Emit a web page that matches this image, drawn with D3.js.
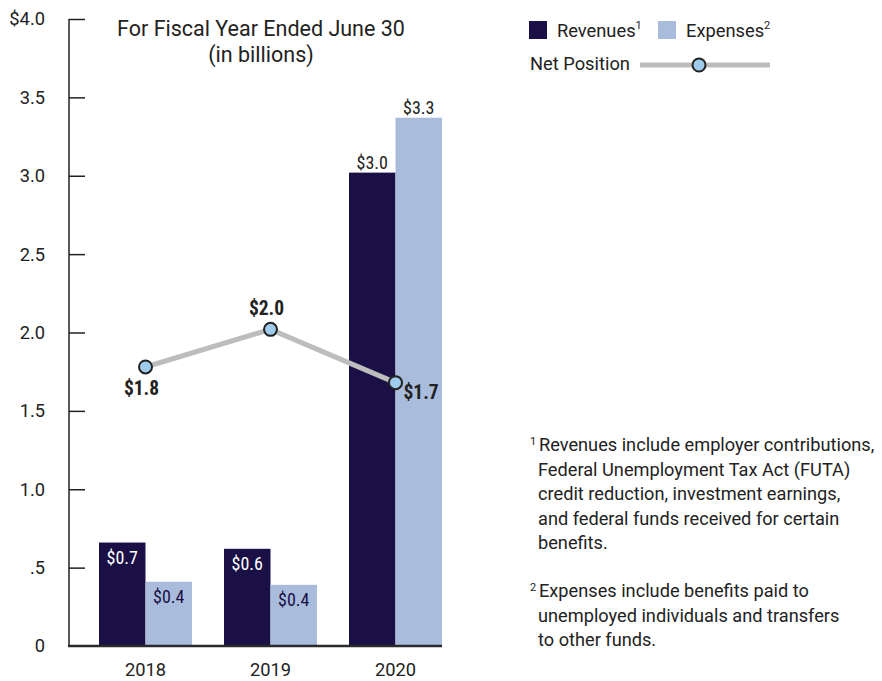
<!DOCTYPE html>
<html>
<head>
<meta charset="utf-8">
<script src="https://cdn.jsdelivr.net/npm/d3@7"></script>
<style>
  body { margin: 0; background: #fff; }
  svg { display: block; font-family: Roboto, "Noto Sans", sans-serif; }
  .cond { font-family: "Roboto Condensed", "Liberation Sans Narrow", "DejaVu Sans Condensed", sans-serif; }
</style>
</head>
<body>
<svg id="chart" width="882" height="681"></svg>
<script>
// values in billions
var years = ['2018', '2019', '2020']
var revenues = [0.66, 0.62, 3.02]
var expenses = [0.41, 0.39, 3.37]
var netPosition = [1.78, 2.02, 1.68]
var revenueLabels = ['$0.7', '$0.6', '$3.0']
var expenseLabels = ['$0.4', '$0.4', '$3.3']
var netLabels = ['$1.8', '$2.0', '$1.7']
var yTicks = [0, 0.5, 1, 1.5, 2, 2.5, 3, 3.5, 4]
var yTickLabels = ['0', '.5', '1.0', '1.5', '2.0', '2.5', '3.0', '3.5', '$4.0']
var footnote1 = ['Revenues include employer contributions,', 'Federal Unemployment Tax Act (FUTA)', 'credit reduction, investment earnings,', 'and federal funds received for certain', 'benefits.']
var footnote2 = ['Expenses include benefits paid to', 'unemployed individuals and transfers', 'to other funds.']

var revColor = '#1a1046'
var expColor = '#a9bcdc'
var textColor = '#222'

const svg = d3.select('#chart')

const y = d3.scaleLinear().domain([0, 4]).range([646, 19])
const x = d3.scaleBand().domain(years).range([83, 458]).paddingInner(0.256).paddingOuter(0.128)
const sub = d3.scaleBand().domain(['rev', 'exp']).range([0, x.bandwidth()])

// y axis
const yAxis = d3.axisRight(y)
  .tickValues(yTicks)
  .tickSize(16)
  .tickFormat('')
const yg = svg.append('g').attr('transform', 'translate(69,0)').call(yAxis)
yg.select('.domain').attr('stroke', textColor).attr('stroke-width', 1.5).attr('d', `M0,${y(4)}V${y(0)}`)
yg.selectAll('.tick line').attr('stroke', textColor).attr('stroke-width', 1.5)
yg.selectAll('.tick').filter(d => d === 0).select('line').remove()

svg.append('g').selectAll('text')
  .data(yTicks)
  .join('text')
  .attr('x', 45)
  .attr('y', d => y(d))
  .attr('dy', '0.35em')
  .attr('text-anchor', 'end')
  .attr('font-size', 18.3)
  .attr('fill', textColor)
  .text((d, i) => yTickLabels[i])

// bars
const groups = svg.append('g').selectAll('g')
  .data(years)
  .join('g')
  .attr('transform', d => `translate(${x(d)},0)`)

groups.append('rect')
  .attr('x', sub('rev'))
  .attr('width', sub.bandwidth())
  .attr('y', (d, i) => y(revenues[i]))
  .attr('height', (d, i) => y(0) - y(revenues[i]))
  .attr('fill', revColor)

groups.append('rect')
  .attr('x', sub('exp'))
  .attr('width', sub.bandwidth())
  .attr('y', (d, i) => y(expenses[i]))
  .attr('height', (d, i) => y(0) - y(expenses[i]))
  .attr('fill', expColor)

// bar labels: inside for small bars, above for tall ones
function barLabel(vals, labels, key, inside) {
  groups.append('text')
    .attr('class', 'cond')
    .attr('x', sub(key) + sub.bandwidth() / 2)
    .attr('y', (d, i) => vals[i] > 1 ? y(vals[i]) - 4 : y(vals[i]) + 21)
    .attr('text-anchor', 'middle')
    .attr('font-size', 18)
    .attr('fill', (d, i) => vals[i] > 1 ? textColor : inside)
    .text((d, i) => labels[i])
}
barLabel(revenues, revenueLabels, 'rev', '#fff')
barLabel(expenses, expenseLabels, 'exp', revColor)

// baseline
svg.append('line')
  .attr('x1', 68).attr('x2', x('2020') + x.bandwidth())
  .attr('y1', y(0)).attr('y2', y(0))
  .attr('stroke', '#2a2a2a').attr('stroke-width', 2.5)

// net position line
const cx = d => x(d) + x.bandwidth() / 2
const line = d3.line().x(d => cx(d)).y((d, i) => y(netPosition[i]))
svg.append('path')
  .datum(years)
  .attr('d', line)
  .attr('fill', 'none')
  .attr('stroke', '#bdbdbd')
  .attr('stroke-width', 5)

svg.append('g').selectAll('circle')
  .data(years)
  .join('circle')
  .attr('cx', cx)
  .attr('cy', (d, i) => y(netPosition[i]))
  .attr('r', 6.5)
  .attr('fill', '#9fcbed')
  .attr('stroke', textColor)
  .attr('stroke-width', 2)

// net labels: below, above, right
var netOffsets = [[-4, 28, 'middle'], [-4, -14, 'middle'], [8, 16, 'start']]
svg.append('g').selectAll('text')
  .data(years)
  .join('text')
  .attr('class', 'cond')
  .attr('x', (d, i) => cx(d) + netOffsets[i][0])
  .attr('y', (d, i) => y(netPosition[i]) + netOffsets[i][1])
  .attr('text-anchor', (d, i) => netOffsets[i][2])
  .attr('font-size', 19.5)
  .attr('font-weight', 'bold')
  .attr('fill', textColor)
  .text((d, i) => netLabels[i])

// x labels
svg.append('g').selectAll('text')
  .data(years)
  .join('text')
  .attr('x', cx)
  .attr('y', 676)
  .attr('text-anchor', 'middle')
  .attr('font-size', 18.3)
  .attr('fill', textColor)
  .text(d => d)

// title
svg.append('text')
  .attr('x', 261).attr('y', 36)
  .attr('text-anchor', 'middle')
  .attr('font-size', 21.5)
  .attr('fill', textColor)
  .text('For Fiscal Year Ended June 30')
svg.append('text')
  .attr('x', 261).attr('y', 62)
  .attr('text-anchor', 'middle')
  .attr('font-size', 21.5)
  .attr('fill', textColor)
  .text('(in billions)')

// legend
const legend = svg.append('g')
legend.append('rect').attr('x', 529).attr('y', 21).attr('width', 18).attr('height', 18).attr('fill', revColor)
legend.append('rect').attr('x', 658).attr('y', 21).attr('width', 18).attr('height', 18).attr('fill', expColor)
const lt1 = legend.append('text').attr('x', 557).attr('y', 37).attr('font-size', 18.3).attr('fill', textColor)
lt1.append('tspan').text('Revenues')
lt1.append('tspan').attr('font-size', 11).attr('dy', -8).text('1')
const lt2 = legend.append('text').attr('x', 686).attr('y', 37).attr('font-size', 18.3).attr('fill', textColor)
lt2.append('tspan').text('Expenses')
lt2.append('tspan').attr('font-size', 11).attr('dy', -8).text('2')
legend.append('text').attr('x', 530).attr('y', 70).attr('font-size', 18.3).attr('fill', textColor).text('Net Position')
legend.append('line').attr('x1', 640).attr('x2', 770).attr('y1', 65).attr('y2', 65)
  .attr('stroke', '#bdbdbd').attr('stroke-width', 5)
legend.append('circle').attr('cx', 699).attr('cy', 65).attr('r', 6.5)
  .attr('fill', '#9fcbed').attr('stroke', textColor).attr('stroke-width', 2)

// footnotes
function footnote(lines, mark, top) {
  const g = svg.append('g')
  g.append('text').attr('x', 530).attr('y', top - 6).attr('font-size', 11).attr('fill', textColor).text(mark)
  g.selectAll('text.line')
    .data(lines)
    .join('text')
    .attr('class', 'line')
    .attr('x', (d, i) => i === 0 ? 539 : 538)
    .attr('y', (d, i) => top + i * 24.5)
    .attr('font-size', 18.2)
    .attr('fill', textColor)
    .text(d => d)
}
footnote(footnote1, '1', 451)
footnote(footnote2, '2', 597)
</script>
</body>
</html>
